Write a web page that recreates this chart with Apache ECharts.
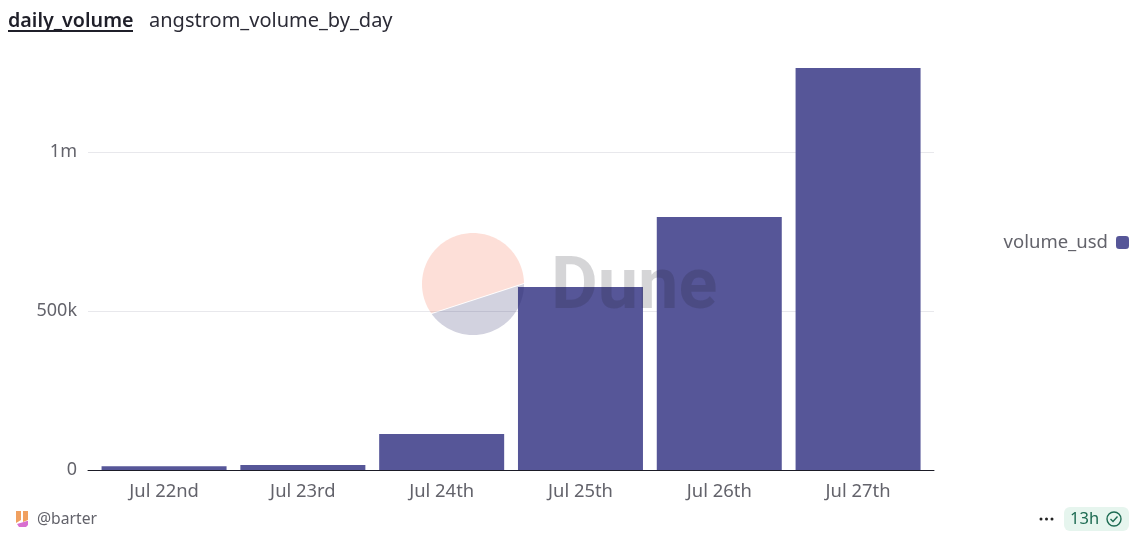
<!DOCTYPE html>
<html><head><meta charset="utf-8">
<style>html,body{margin:0;padding:0;background:#fff}#c{width:1139px;height:539px}</style>
<script src="https://cdn.jsdelivr.net/npm/echarts@6/dist/echarts.min.js"></script>
</head><body><div id="c"></div>
<script>
const categories = ['Jul 22nd','Jul 23rd','Jul 24th','Jul 25th','Jul 26th','Jul 27th'];
const volumeUsd = [12000,16000,113000,575000,795000,1264000];
const yTicks = [0,500000,1000000];
const seriesName = 'volume_usd';
const titleMain = 'daily_volume';
const titleSub = 'angstrom_volume_by_day';
const author = '@barter';
const age = '13h';

const FONT = '"Noto Sans", sans-serif';
const GREY = '#63636b';
const chart = echarts.init(document.getElementById('c'), null, {renderer:'canvas'});
const txt = (x,y,text,fontSize,fill,extra={}) => ({type:'text',x,y,z:50,silent:true,
  style:Object.assign({text,fontSize,fill,fontFamily:FONT,verticalAlign:'middle'},extra)});
// slice of the logo circle: arc from a1 down to a2 degrees, closed by a chord
const segment = (cx,cy,r,a1,a2) => {
  const pts=[];
  for(let a=a1;a>=a2;a-=2){pts.push([cx+r*Math.cos(a*Math.PI/180),cy+r*Math.sin(a*Math.PI/180)]);}
  return pts;
};

chart.setOption({
  animation:false,
  backgroundColor:'#fff',
  textStyle:{fontFamily:FONT},
  grid:{left:88,right:205,top:66,bottom:69,containLabel:false},
  legend:{show:true,right:5,top:228,icon:'roundRect',itemWidth:13,itemHeight:13,align:'right',itemGap:0,
    textStyle:{color:GREY,fontSize:18.5,fontFamily:FONT,padding:[0,3,0,0]},data:[seriesName]},
  tooltip:{show:false},
  xAxis:{type:'value',min:-0.548,max:5.547,
    splitLine:{show:false},axisTick:{show:false},
    axisLine:{show:true,onZero:true,lineStyle:{color:'#1b1b26',width:1}},
    axisLabel:{customValues:categories.map((_,i)=>i),color:GREY,fontSize:18.4,fontFamily:FONT,margin:13,
      formatter:v=>categories[v]}},
  yAxis:{type:'value',min:0,max:1270000,interval:500000,
    axisLine:{show:false},axisTick:{show:false},
    splitLine:{show:true,showMaxLine:false,showMinLine:false,lineStyle:{color:'#e8e8ec',width:1}},
    axisLabel:{color:GREY,fontSize:18,fontFamily:FONT,margin:11,padding:[0,0,5,0],
      customValues:yTicks,
      formatter:v=>v===0?'0':v>=1e6?(v/1e6)+'m':(v/1e3)+'k'}},
  series:[{name:seriesName,type:'bar',barWidth:125,itemStyle:{color:'#565698'},z:2,
    data:volumeUsd.map((v,i)=>[i,v])}],
  graphic:[
    txt(8,21,titleMain,19.7,'#1f1f29',{fontWeight:600}),
    {type:'rect',z:50,silent:true,shape:{x:8,y:30,width:125,height:2},style:{fill:'#1f1f29'}},
    txt(149,21,titleSub,20,'#2b2b36'),
    {type:'polygon',z:40,silent:true,shape:{points:segment(473,284,51,359,144)},style:{fill:'rgba(244,96,62,0.2)'}},
    {type:'polygon',z:41,silent:true,shape:{points:segment(473,284,51,144,-1)},style:{fill:'rgba(42,43,104,0.21)'}},
    {type:'text',z:42,silent:true,x:551,y:290,style:{text:'Dune',fontSize:72,fontWeight:700,fontFamily:'Roboto, sans-serif',
      fill:'rgba(30,30,40,0.19)',verticalAlign:'middle'}},
    {type:'polygon',z:50,silent:true,shape:{points:[[16,511],[21,511],[21,520],[16,523]]},style:{fill:'#f0a060'}},
    {type:'polygon',z:50,silent:true,shape:{points:[[23,511],[28,511],[28,520],[23,522]]},style:{fill:'#f0a060'}},
    {type:'polygon',z:50,silent:true,shape:{points:[[17,524],[27,521],[28,521],[28,525],[26,527],[19,527]]},style:{fill:'#d86fd0'}},
    txt(37,519.5,author,15.7,GREY),
    {type:'circle',z:50,silent:true,shape:{cx:1041,cy:519,r:1.5},style:{fill:'#222'}},
    {type:'circle',z:50,silent:true,shape:{cx:1046.5,cy:519,r:1.5},style:{fill:'#222'}},
    {type:'circle',z:50,silent:true,shape:{cx:1052,cy:519,r:1.5},style:{fill:'#222'}},
    {type:'rect',z:49,silent:true,shape:{x:1064,y:507,width:65,height:24,r:6},style:{fill:'#e6f5ee'}},
    txt(1070,519,age,16.5,'#1d6b52'),
    {type:'circle',z:50,silent:true,shape:{cx:1114,cy:519,r:7},style:{fill:'none',stroke:'#1d6b52',lineWidth:1.4}},
    {type:'polyline',z:50,silent:true,shape:{points:[[1110.5,519],[1113,521.5],[1117.5,516.5]]},style:{fill:'none',stroke:'#1d6b52',lineWidth:1.4}}
  ]
});
</script></body></html>
